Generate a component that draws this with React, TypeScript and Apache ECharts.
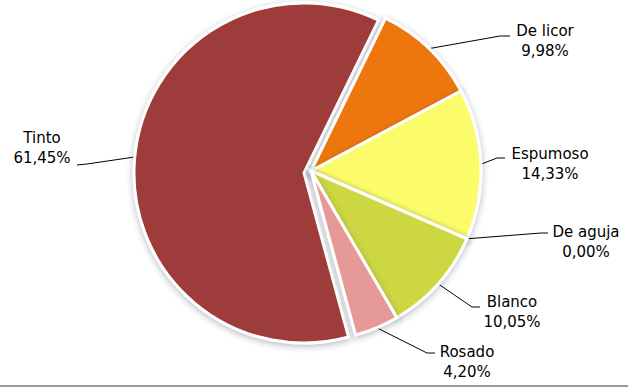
import React, { useEffect, useRef } from "react";
import * as echarts from "echarts";

const categories = ["De licor", "Espumoso", "De aguja", "Blanco", "Rosado", "Tinto"];
const shares = [9.98, 14.33, 0.0, 10.05, 4.2, 61.45];
const sliceColors = ["#EE7711", "#FCFC6A", "#F2F270", "#CCD743", "#E59A98", "#9E3B3A"];
// the big slice is pulled slightly to the left, the rest slightly to the right
const bigSlice = "Tinto";

// label anchor (centre of the two-line block) and leader bend/end points
const labelAnchors: Record<string, { x: number; y: number; bend: number[]; end: number[] }> = {
  "De licor": { x: 545, y: 41, bend: [500, 36], end: [510, 36] },
  Espumoso: { x: 550, y: 164, bend: [497, 158], end: [505, 158] },
  "De aguja": { x: 586, y: 242, bend: [541, 233], end: [548, 233] },
  Blanco: { x: 512, y: 312, bend: [472, 307], end: [480, 307] },
  Rosado: { x: 467, y: 362, bend: [427, 353], end: [435, 353] },
  Tinto: { x: 42, y: 148, bend: [87, 164], end: [77, 165] },
};

export default function App() {
  const ref = useRef<HTMLDivElement>(null);
  useEffect(() => {
    if (!ref.current) return;
    const chart = echarts.init(ref.current, null, { renderer: "svg" });

    const makeData = (showBig: boolean) =>
      categories.map((name, i) => {
        const visible = (name === bigSlice) === showBig;
        return visible
          ? { name, value: shares[i], itemStyle: { color: sliceColors[i] } }
          : {
              name,
              value: shares[i],
              itemStyle: {
                color: "rgba(0,0,0,0)",
                borderWidth: 0,
                shadowBlur: 0,
                shadowColor: "rgba(0,0,0,0)",
              },
              label: { show: false },
              labelLine: { show: false },
            };
      });

    const labelLayout = (params: any) => {
      const name = categories[params.dataIndex];
      const a = labelAnchors[name];
      const start = params.labelLinePoints ? params.labelLinePoints[0] : a.bend;
      return {
        x: a.x,
        y: a.y,
        align: "center",
        verticalAlign: "middle",
        labelLinePoints: [start, a.bend, a.end],
      };
    };

    const base = {
      type: "pie",
      radius: 170,
      startAngle: 64,
      clockwise: true,
      minShowLabelAngle: -1,
      itemStyle: {
        borderColor: "#ffffff",
        borderWidth: 3,
        borderJoin: "miter",
        shadowBlur: 6,
        shadowColor: "rgba(40,50,80,0.35)",
        shadowOffsetY: 2,
      },
      label: {
        show: true,
        position: "outside",
        formatter: (p: any) => `${p.name}\n${p.value.toFixed(2).replace(".", ",")}%`,
        fontFamily: "DejaVu Sans",
        fontSize: 15,
        lineHeight: 20,
        color: "#000000",
        align: "center",
      },
      labelLine: {
        show: true,
        lineStyle: { color: "#000000", width: 1 },
      },
      labelLayout,
      emphasis: { disabled: true },
    };

    chart.setOption({
      animation: false,
      backgroundColor: "#ffffff",
      graphic: [
        {
          type: "rect",
          left: 0,
          top: 385,
          shape: { width: 628, height: 2 },
          style: { fill: "#9a9a9a" },
        },
      ],
      series: [
        { ...base, name: "big", center: [304, 173], data: makeData(true) },
        { ...base, name: "rest", center: [311, 171], data: makeData(false) },
      ],
    });
    return () => chart.dispose();
  }, []);
  return (
    <div
      ref={ref}
      style={{ position: "fixed", left: 0, top: 0, width: 628, height: 387 }}
    />
  );
}
